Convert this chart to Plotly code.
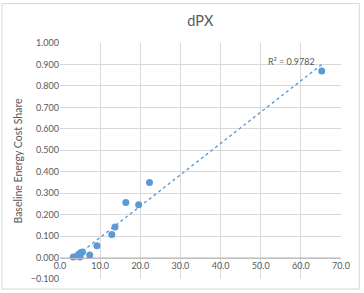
import numpy as np
import plotly.graph_objects as go

# Data
x_vals = [3.3, 4.3, 4.5, 4.9, 5.0, 5.3, 5.6, 7.4, 9.2, 12.9, 13.7, 16.4, 19.6, 22.3, 65.2]
y_vals = [0.003, 0.007, 0.012, 0.019, 0.002, 0.023, 0.026, 0.012, 0.055, 0.107, 0.142, 0.256, 0.246, 0.350, 0.870]
title_text = "dPX"
y_title = "Baseline Energy Cost Share"
r2_text = "R² = 0.9782"

W, H = 364, 293
L, R, T, B = 60, 23.3, 42.5, 14
plot_h = H - T - B
plot_w = W - L - R

grey = "#595959"
grid = "#d9d9d9"
blue = "#5b9bd5"
font = "Lato"

# linear trendline from the data
coef = np.polyfit(x_vals, y_vals, 1)
tx = np.array([min(x_vals), max(x_vals)])
ty = np.polyval(coef, tx)

fig = go.Figure()
fig.add_trace(go.Scatter(x=tx, y=ty, mode="lines",
                         line=dict(color=blue, width=1.4, dash="dot"),
                         hoverinfo="skip", showlegend=False))
fig.add_trace(go.Scatter(x=x_vals, y=y_vals, mode="markers",
                         marker=dict(color=blue, size=7),
                         showlegend=False))

ymin, ymax = -0.1, 1.0
zero_pos = (0 - ymin) / (ymax - ymin)

fig.update_layout(
    width=W, height=H,
    margin=dict(l=L, r=R, t=T, b=B, autoexpand=False),
    paper_bgcolor="white", plot_bgcolor="white",
    font=dict(family=font, color=grey, size=9),
    title=dict(text=title_text, x=(L + plot_w / 2) / W, xanchor="center",
               y=1 - 20.5 / H, yanchor="middle",
               font=dict(size=14.5, color=grey, family=font)),
    xaxis=dict(range=[0, 70], dtick=10, tick0=0, tickformat=".1f",
               showgrid=True, gridcolor=grid, gridwidth=1,
               zeroline=False, showline=True, linecolor="#bfbfbf", linewidth=1,
               anchor="free", position=zero_pos, ticks="",
               tickfont=dict(size=9, color=grey, family=font)),
    yaxis=dict(range=[ymin, ymax], dtick=0.1, tick0=0, tickformat=".3f",
               showgrid=True, gridcolor=grid, gridwidth=1,
               zeroline=False, showline=False, ticks="",
               title=dict(text=y_title, standoff=6,
                          font=dict(size=10.5, color=grey, family=font)),
               tickfont=dict(size=9, color=grey, family=font)),
    annotations=[dict(x=57.6, y=0.914, xref="x", yref="y", text=r2_text,
                      showarrow=False, font=dict(size=9, color=grey, family=font))],
    shapes=[dict(type="rect", xref="paper", yref="paper",
                 x0=(2 - L) / plot_w, x1=(359 - L) / plot_w,
                 y0=(H - B - 289) / plot_h, y1=(H - B - 3) / plot_h,
                 line=dict(color="#d9d9d9", width=1), layer="below")],
)

fig.write_html("out.html")
